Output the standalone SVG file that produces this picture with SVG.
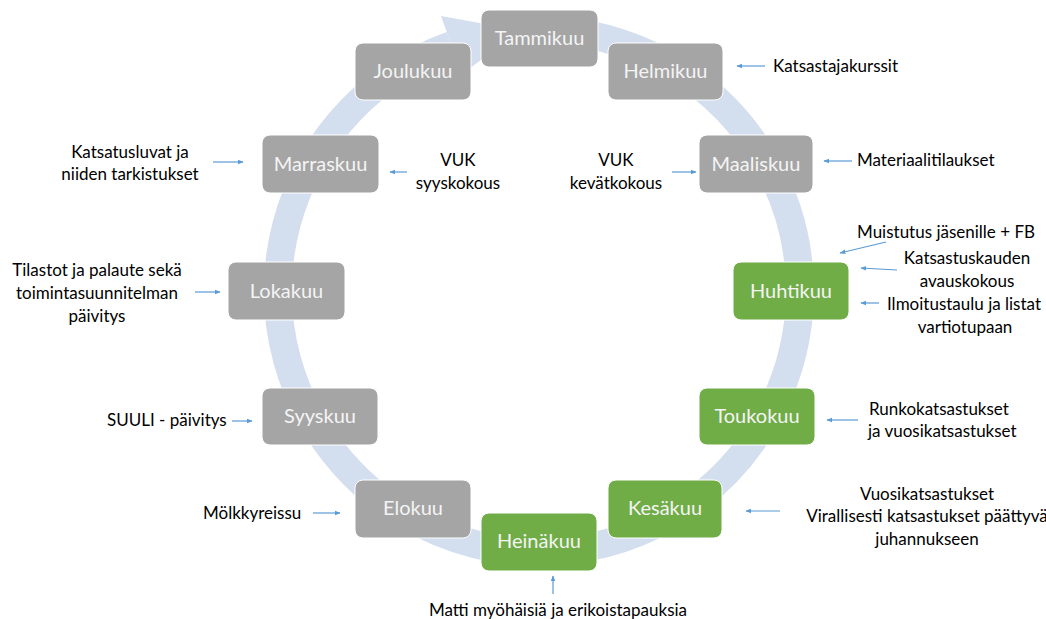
<svg xmlns="http://www.w3.org/2000/svg" width="1046" height="619" viewBox="0 0 1046 619">
<defs>
<marker id="ah" viewBox="0 0 10 10" refX="9" refY="5" markerWidth="6" markerHeight="6" orient="auto" markerUnits="userSpaceOnUse"><path d="M0,1 L10,5 L0,9 z" fill="#5b9bd5"/></marker>
<style>
.ring{fill:none;stroke:#d3deef;stroke-width:28}
.head{fill:#d3deef}
.g rect{fill:#a5a5a5;stroke:#ffffff;stroke-width:1}
.gr rect{fill:#70ad47;stroke:#ffffff;stroke-width:1}
.n text{font-family:Lato,"Liberation Sans",sans-serif;font-size:20px;fill:#f4f4f4;text-anchor:middle}
.t{font-family:Lato,"Liberation Sans",sans-serif;font-size:17px;fill:#000}
.c{text-anchor:middle}
.a{stroke:#5b9bd5;stroke-width:1.2;fill:none;marker-end:url(#ah)}
</style>
</defs>
<rect width="1046" height="619" fill="#ffffff"/>
<g id="cycle">
<path class="ring" d="M 561.7 31.0 A 261 261 0 1 1 451.4 45.1"/>
<polygon class="head" points="441,15.9 520.8,30.6 461.8,74.3"/>
</g>
<g id="tammikuu" class="n g"><rect x="481" y="10" width="117" height="57" rx="8"/><text x="539.5" y="45">Tammikuu</text></g>
<g id="helmikuu" class="n g"><rect x="608" y="43" width="115" height="57" rx="8"/><text x="665.5" y="78">Helmikuu</text></g>
<g id="maaliskuu" class="n g"><rect x="699" y="135" width="114" height="58" rx="8"/><text x="756" y="171">Maaliskuu</text></g>
<g id="huhtikuu" class="n gr"><rect x="733" y="262" width="116" height="58" rx="8"/><text x="791" y="298">Huhtikuu</text></g>
<g id="toukokuu" class="n gr"><rect x="699" y="388" width="116" height="57" rx="8"/><text x="757" y="423">Toukokuu</text></g>
<g id="kesakuu" class="n gr"><rect x="608" y="480" width="114" height="58" rx="8"/><text x="665" y="515">Kesäkuu</text></g>
<g id="heinakuu" class="n gr"><rect x="481" y="513" width="116" height="58" rx="8"/><text x="539" y="548">Heinäkuu</text></g>
<g id="elokuu" class="n g"><rect x="355" y="480" width="116" height="58" rx="8"/><text x="413" y="515">Elokuu</text></g>
<g id="syyskuu" class="n g"><rect x="262" y="388" width="116" height="57" rx="8"/><text x="320" y="423">Syyskuu</text></g>
<g id="lokakuu" class="n g"><rect x="228" y="262" width="117" height="58" rx="8"/><text x="286.5" y="298">Lokakuu</text></g>
<g id="marraskuu" class="n g"><rect x="262" y="135" width="117" height="58" rx="8"/><text x="320.5" y="171">Marraskuu</text></g>
<g id="joulukuu" class="n g"><rect x="355" y="43" width="116" height="57" rx="8"/><text x="413" y="78">Joulukuu</text></g>
<g id="labels">
<text class="t" x="773" y="72">Katsastajakurssit</text>
<text class="t c" x="616" y="166">VUK</text>
<text class="t c" x="616" y="189">kevätkokous</text>
<text class="t" x="857" y="166">Materiaalitilaukset</text>
<text class="t" x="857" y="238">Muistutus jäsenille + FB</text>
<text class="t c" x="967" y="264">Katsastuskauden</text>
<text class="t c" x="967" y="287">avauskokous</text>
<text class="t c" x="964" y="310">Ilmoitustaulu ja listat</text>
<text class="t c" x="965" y="333">vartiotupaan</text>
<text class="t" x="869" y="415">Runkokatsastukset</text>
<text class="t" x="868" y="437">ja vuosikatsastukset</text>
<text class="t c" x="927" y="500">Vuosikatsastukset</text>
<text class="t c" x="927" y="522">Virallisesti katsastukset päättyvä</text>
<text class="t c" x="927" y="545">juhannukseen</text>
<text class="t c" x="558" y="616">Matti myöhäisiä ja erikoistapauksia</text>
<text class="t" x="203" y="519">Mölkkyreissu</text>
<text class="t" x="107" y="426">SUULI - päivitys</text>
<text class="t c" x="97" y="276">Tilastot ja palaute sekä</text>
<text class="t c" x="97" y="299">toimintasuunnitelman</text>
<text class="t c" x="97" y="322">päivitys</text>
<text class="t c" x="130" y="158">Katsatusluvat ja</text>
<text class="t c" x="130" y="180">niiden tarkistukset</text>
<text class="t c" x="458" y="166">VUK</text>
<text class="t c" x="458" y="189">syyskokous</text>
</g>
<g id="connectors">
<line class="a" x1="765" y1="66" x2="737" y2="66"/>
<line class="a" x1="672" y1="172" x2="696" y2="172"/>
<line class="a" x1="852" y1="161" x2="824" y2="161"/>
<line class="a" x1="886" y1="242" x2="840" y2="253"/>
<line class="a" x1="897" y1="270" x2="861" y2="268"/>
<line class="a" x1="879" y1="303" x2="861" y2="303"/>
<line class="a" x1="858" y1="420" x2="827" y2="420"/>
<line class="a" x1="780" y1="511" x2="746" y2="511"/>
<line class="a" x1="553" y1="594" x2="553" y2="576"/>
<line class="a" x1="313" y1="513" x2="340" y2="513"/>
<line class="a" x1="232" y1="421" x2="252" y2="421"/>
<line class="a" x1="195" y1="292" x2="220" y2="292"/>
<line class="a" x1="213" y1="162" x2="243" y2="162"/>
<line class="a" x1="407" y1="172" x2="390" y2="172"/>
</g>
</svg>
